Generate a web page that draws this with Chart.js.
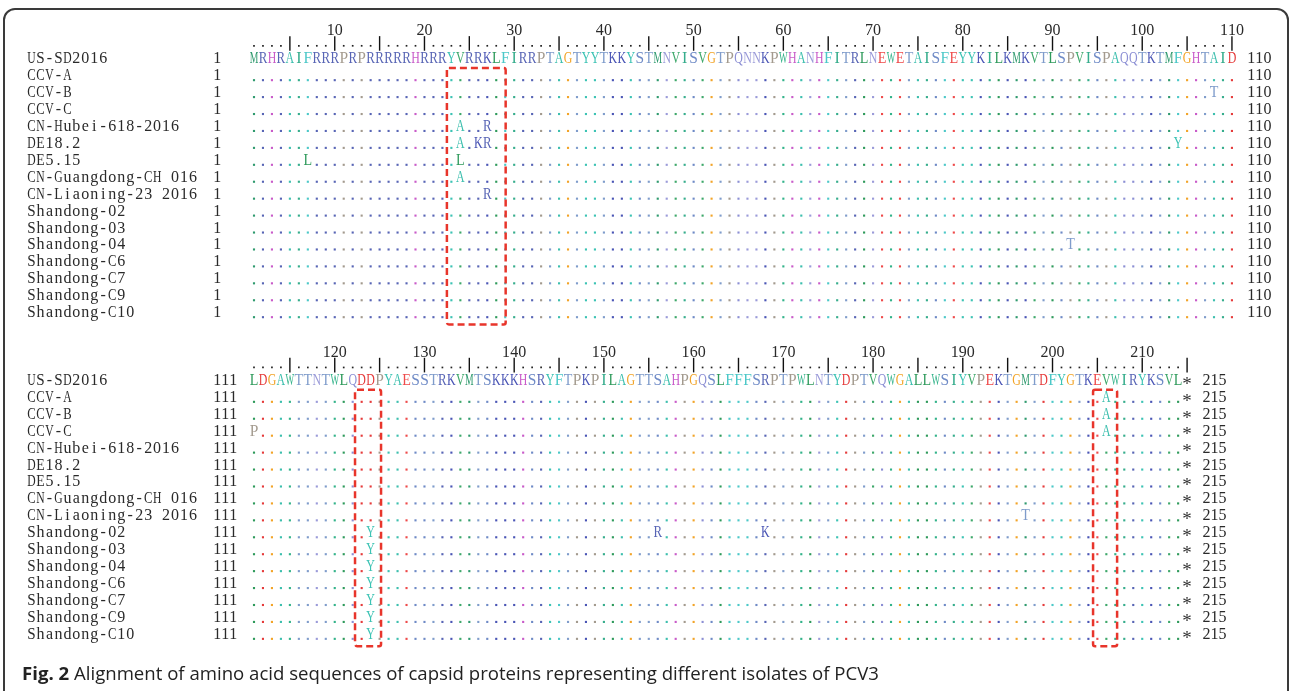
<!DOCTYPE html>
<html>
<head>
<meta charset="utf-8">
<script src="https://cdn.jsdelivr.net/npm/chart.js@4"></script>
<style>
  html, body { margin: 0; padding: 0; background: #fff; width: 1292px; height: 691px; overflow: hidden; }
  #frame { position: absolute; left: 3px; top: 8px; width: 1286px; height: 720px; border: 2px solid #3a3a3a; border-radius: 12px; box-sizing: border-box; }
  #grafico { position: absolute; left: 0; top: 0; }
  #caption { position: absolute; left: 22px; top: 660px; font-family: 'Open Sans'; font-size: 18.6px; color: #222; white-space: nowrap; }
  #caption b { font-weight: 700; }
</style>
</head>
<body>
<div id="frame"></div>
<canvas id="grafico" width="1292" height="691"></canvas>
<div id="caption"><b>Fig. 2</b> Alignment of amino acid sequences of capsid proteins representing different isolates of PCV3</div>
<script>
const isolates = ['US-SD2016', 'CCV-A', 'CCV-B', 'CCV-C', 'CN-Hubei-618-2016', 'DE18.2', 'DE5.15',
  'CN-Guangdong-CH 016', 'CN-Liaoning-23 2016', 'Shandong-02', 'Shandong-03', 'Shandong-04',
  'Shandong-C6', 'Shandong-C7', 'Shandong-C9', 'Shandong-C10'];

// US-SD2016 capsid, residues 1-214 (215 is the stop *)
const reference = 'MRHRAIFRRRPRPRRRRRHRRRYVRRKLFIRRPTAGTYYTKKYSTMNVISVGTPQNNKPWHANHFITRLNEWETAISFEYYKILKMKVTLSPVISPAQQTKTMFGHTAID' +
  'LDGAWTTNTWLQDDPYAESSTRKVMTSKKKHSRYFTPKPILAGTTSAHPGQSLFFFSRPTPWLNTYDPTVQWGALLWSIYVPEKTGMTDFYGTKEVWIRYKSVL';

// [isolate row, position, residue]
const substitutions = [
  [1, 206, 'A'],
  [2, 108, 'T'], [2, 206, 'A'],
  [3, 111, 'P'], [3, 206, 'A'],
  [4, 24, 'A'], [4, 27, 'R'],
  [5, 24, 'A'], [5, 26, 'K'], [5, 27, 'R'], [5, 104, 'Y'],
  [6, 7, 'L'], [6, 24, 'L'],
  [7, 24, 'A'],
  [8, 27, 'R'], [8, 197, 'T'],
  [9, 124, 'Y'], [9, 156, 'R'], [9, 168, 'K'],
  [10, 124, 'Y'],
  [11, 92, 'T'], [11, 124, 'Y'],
  [12, 124, 'Y'], [13, 124, 'Y'], [14, 124, 'Y'], [15, 124, 'Y']
];

const blockStart = [1, 111];
const blockEnd = [110, 215];
const rulerLabels = [10, 20, 30, 40, 50, 60, 70, 80, 90, 100, 110, 120, 130, 140, 150, 160, 170, 180, 190, 200, 210];

// boxed regions (sequence coordinates)
const highlights = [
  { block: 0, from: 22.5, to: 29.05 },
  { block: 1, from: 122.26, to: 125.16 },
  { block: 1, from: 204.52, to: 207.2 }
];

const aaColors = {
  M: '#2f9a6e', R: '#5865b5', H: '#c95bc9', A: '#3dbfae', I: '#36ad8c', F: '#4cc8c8',
  P: '#a39a8e', Y: '#3cc3b4', V: '#3ea86a', K: '#4a55b5', L: '#2e9a5b', T: '#7f9ccb',
  G: '#f2a428', S: '#6e8ac6', N: '#9b9bd9', Q: '#8c8fd4', W: '#33b38a', E: '#ee4a4a',
  D: '#e53b3b', '*': '#333333'
};

const serif = '"Liberation Serif", "DejaVu Serif", serif';
const blockRows = 19;
const letterPts = [];
const dotPts = [];
const rulerDots = [];
const rulerTicks = [];

blockStart.forEach((start, b) => {
  const yb = b * blockRows;
  for (let p = start; p <= blockEnd[b]; p++) {
    const col = p - start + 1;
    if (p % 5 === 0) rulerTicks.push({ x: col, y: yb - 0.92 });
    else rulerDots.push({ x: col, y: yb - 0.78 });
    isolates.forEach((name, r) => {
      if (p > reference.length) {
        letterPts.push({ x: col, y: yb + r, ch: '*' });
        return;
      }
      const ref = reference[p - 1];
      const sub = substitutions.find(s => s[0] === r && s[1] === p);
      if (r === 0) letterPts.push({ x: col, y: yb, ch: ref });
      else if (sub) letterPts.push({ x: col, y: yb + r, ch: sub[2] });
      else dotPts.push({ x: col, y: yb + r + 0.25, c: ref });
    });
  }
});

// fixed-pitch text: one glyph per step along the x scale
function pitchText(ctx, xs, str, col, py, step) {
  for (let i = 0; i < str.length; i++) {
    ctx.fillText(str[i], xs.getPixelForValue(col + i * step), py, 8.4);
  }
}

const textPlugin = {
  id: 'alignText',
  afterDatasetsDraw(chart) {
    const ctx = chart.ctx;
    const xs = chart.scales.x;
    const ys = chart.scales.y;
    ctx.save();
    ctx.textBaseline = 'middle';
    ctx.textAlign = 'center';

    // residues
    ctx.font = '16px ' + serif;
    const meta = chart.getDatasetMeta(0);
    meta.data.forEach((pt, i) => {
      const d = chart.data.datasets[0].data[i];
      ctx.fillStyle = aaColors[d.ch] || '#333';
      if (d.ch === '*') {
        ctx.font = '19px ' + serif;
        ctx.fillText('*', pt.x, pt.y + 4);
        ctx.font = '16px ' + serif;
      } else {
        ctx.fillText(d.ch, pt.x, pt.y, 8.6);
      }
    });

    // names and numbers
    ctx.fillStyle = '#2a2a2a';
    blockStart.forEach((start, b) => {
      const last = blockEnd[b] - start + 1;
      isolates.forEach((name, r) => {
        const py = ys.getPixelForValue(b * blockRows + r);
        pitchText(ctx, xs, name, -23.8, py, 1);
        pitchText(ctx, xs, String(start), -3.1, py, 0.9);
        pitchText(ctx, xs, String(blockEnd[b]), last + 2.15, py, 0.9);
      });
    });

    // ruler numbers
    rulerLabels.forEach(v => {
      const b = v > blockEnd[0] ? 1 : 0;
      const s = String(v);
      const c = v - blockStart[b] + 1 - (s.length - 1) * 0.45;
      pitchText(ctx, xs, s, c, ys.getPixelForValue(b * blockRows - 1.65), 0.9);
    });

    // dashed boxes
    ctx.strokeStyle = '#e8352b';
    ctx.lineWidth = 2.5;
    ctx.setLineDash([7, 4]);
    highlights.forEach(h => {
      const start = blockStart[h.block];
      const x1 = xs.getPixelForValue(h.from - start + 1);
      const x2 = xs.getPixelForValue(h.to - start + 1);
      const y1 = ys.getPixelForValue(h.block * blockRows + 0.53);
      const y2 = ys.getPixelForValue(h.block * blockRows + 15.68);
      ctx.beginPath();
      ctx.roundRect(x1, y1, x2 - x1, y2 - y1, 2);
      ctx.stroke();
    });
    ctx.restore();
  }
};

new Chart(document.getElementById('grafico'), {
  type: 'scatter',
  data: {
    datasets: [
      { label: 'residues', data: letterPts, pointRadius: 0 },
      {
        label: 'identical',
        data: dotPts,
        pointStyle: 'rect',
        pointRadius: 1.5,
        pointBorderWidth: 0,
        pointBackgroundColor: dotPts.map(d => aaColors[d.c])
      },
      {
        label: 'ruler dots',
        data: rulerDots,
        pointStyle: 'rect',
        pointRadius: 1.2,
        pointBorderWidth: 0,
        pointBackgroundColor: '#222'
      },
      {
        label: 'ruler ticks',
        data: rulerTicks,
        pointStyle: 'line',
        pointRotation: 90,
        pointRadius: 7.3,
        pointBorderWidth: 1.4,
        pointBorderColor: '#111'
      }
    ]
  },
  options: {
    responsive: false,
    animation: false,
    devicePixelRatio: 1,
    layout: { padding: 0, autoPadding: false },
    plugins: { legend: { display: false }, tooltip: { enabled: false } },
    scales: {
      x: { type: 'linear', min: -27.31, max: 116.693, display: false },
      y: { type: 'linear', min: -3.485, max: 37.33, reverse: true, display: false }
    }
  },
  plugins: [textPlugin]
});
</script>
</body>
</html>
